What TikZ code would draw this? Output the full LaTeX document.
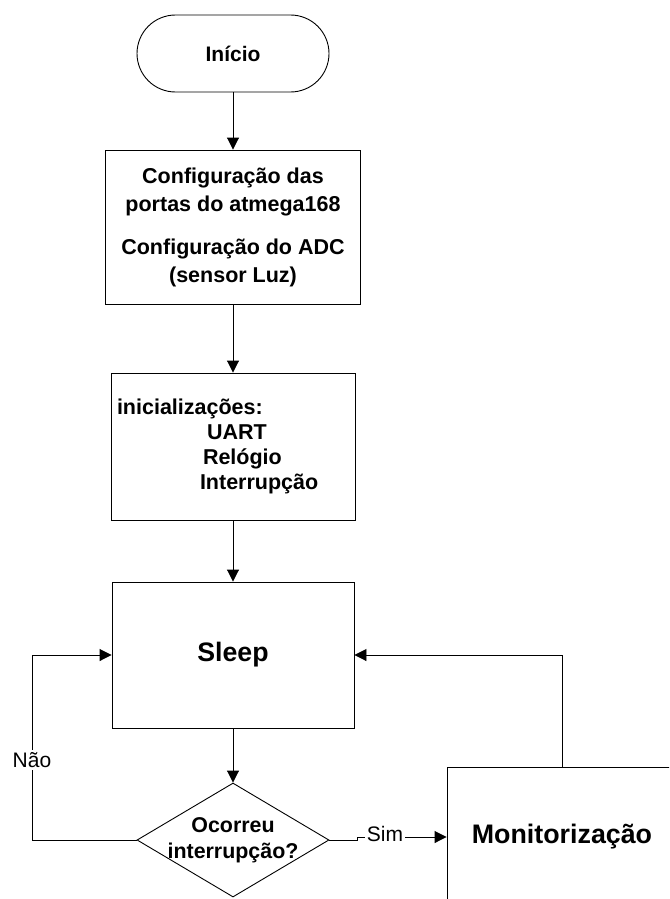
\documentclass[tikz,border=0pt]{standalone}
\usepackage{fontspec}
\setmainfont{Liberation Sans}
\usetikzlibrary{arrows.meta,shapes.geometric}

\begin{document}
\begin{tikzpicture}[x=1pt,y=-1pt,
  box/.style={draw, line width=0.9pt, inner sep=0pt},
  link/.style={line width=0.9pt, -{Triangle[length=12pt,width=12pt]}},
  tag/.style={fill=white, inner sep=2pt, font=\fontsize{21}{24}\selectfont}]
\clip (0,0) rectangle (669,899);

% process steps
\node[box, rounded corners=38.5pt, minimum width=192pt, minimum height=77pt,
      font=\bfseries\fontsize{21}{25}\selectfont] (start) at (233,53.5) {Início};

\node[box, minimum width=255pt, minimum height=154pt, align=center,
      font=\bfseries\fontsize{21.5}{28}\selectfont] (ports) at (233,227)
  {Configuração das\\portas do atmega168\\[15pt]Configuração do ADC\\(sensor Luz)};

\node[box, minimum width=244pt, minimum height=147pt, text width=232pt, align=left,
      font=\bfseries\fontsize{21.5}{25}\selectfont] (init) at (233,446.5)
  {inicializações:\\\hspace*{90pt}UART\\\hspace*{86pt}Relógio\\\hspace*{83pt}Interrupção};

\node[box, minimum width=242pt, minimum height=146pt,
      font=\bfseries\fontsize{26.7}{32}\selectfont] (sleep) at (233,655) {Sleep};

\node[draw, diamond, line width=0.9pt, minimum width=192pt, minimum height=114pt,
      inner sep=0pt] (ask) at (233,840) {};
\node[align=center, font=\bfseries\fontsize{21.4}{26}\selectfont] (asktext) at (ask.center)
  {Ocorreu\\interrupção?};

\node[box, minimum width=230pt, minimum height=140pt,
      font=\bfseries\fontsize{26.8}{32}\selectfont] (mon) at (562,837) {Monitorização};

% connectors
\draw[link] (start) -- (ports);
\draw[link] (ports) -- (init);
\draw[link] (init) -- (sleep);
\draw[link] (sleep) -- (ask);
\draw[link] (ask.west) -| (32,655) -- (sleep.west);
\draw[link] (ask.east) -- (357,840) -- (357,837) -- (mon.west);
\draw[link] (mon.north) |- (sleep.east);

% branch labels
\node[tag] (no) at (32,760) {Não};
\node[tag] (yes) at (385,834) {Sim};
\end{tikzpicture}
\end{document}
